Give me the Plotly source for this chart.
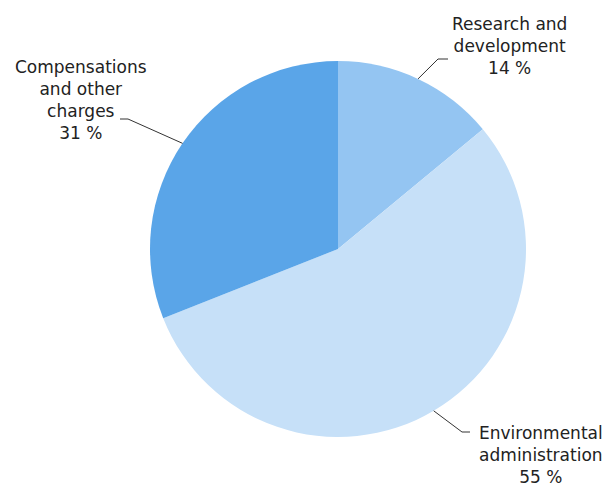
import math
import plotly.graph_objects as go

# ---- data ----
categories = ["Research and development", "Environmental administration", "Compensations and other charges"]
label_text = ["Research and<br>development", "Environmental<br>administration", "Compensations<br>and other<br>charges"]
values = [14, 55, 31]
colors = ["#94c5f2", "#c6e0f8", "#5aa5e8"]

W, H = 611, 488
CX, CY, R = 338, 249, 188  # pie centre / radius in pixels

# label layout: text centre (px), elbow (px), horizontal end (px)
label_layout = [
    dict(tx=509, ty=46, elbow=(438, 59), end=(448, 59)),
    dict(tx=541, ty=455, elbow=(462, 432), end=(470, 432)),
    dict(tx=81, ty=100, elbow=(128, 119), end=(120, 119)),
]

def px(x):
    return x / W

def py(y):
    return 1 - y / H

fig = go.Figure(go.Pie(
    labels=categories,
    values=values,
    sort=False,
    direction="clockwise",
    rotation=0,
    textinfo="none",
    marker=dict(colors=colors, line=dict(width=0)),
    domain=dict(x=[px(CX - R), px(CX + R)], y=[py(CY + R), py(CY - R)]),
    showlegend=False,
))

total = sum(values)
cum = 0
shapes = []
annotations = []
for v, txt, lay in zip(values, label_text, label_layout):
    mid = (cum + v / 2) / total * 2 * math.pi
    cum += v
    ex = CX + R * math.sin(mid)
    ey = CY - R * math.cos(mid)
    ox, oy = lay["elbow"]
    hx, hy = lay["end"]
    shapes.append(dict(
        type="path", xref="paper", yref="paper",
        path=f"M {px(ex)},{py(ey)} L {px(ox)},{py(oy)} L {px(hx)},{py(hy)}",
        line=dict(color="#333333", width=1),
    ))
    annotations.append(dict(
        x=px(lay["tx"]), y=py(lay["ty"]), xref="paper", yref="paper",
        text=f"{txt}<br>{v} %", showarrow=False, align="center",
        xanchor="center", yanchor="middle",
        font=dict(family="DejaVu Sans", size=17, color="#222222"),
    ))

fig.update_layout(
    width=W, height=H, autosize=False,
    margin=dict(l=0, r=0, t=0, b=0),
    paper_bgcolor="white", plot_bgcolor="white",
    shapes=shapes, annotations=annotations,
)

fig.write_html(
    "out.html",
    config={"displayModeBar": False},
    post_script="document.body.style.margin='0';document.body.style.overflow='hidden';",
)
